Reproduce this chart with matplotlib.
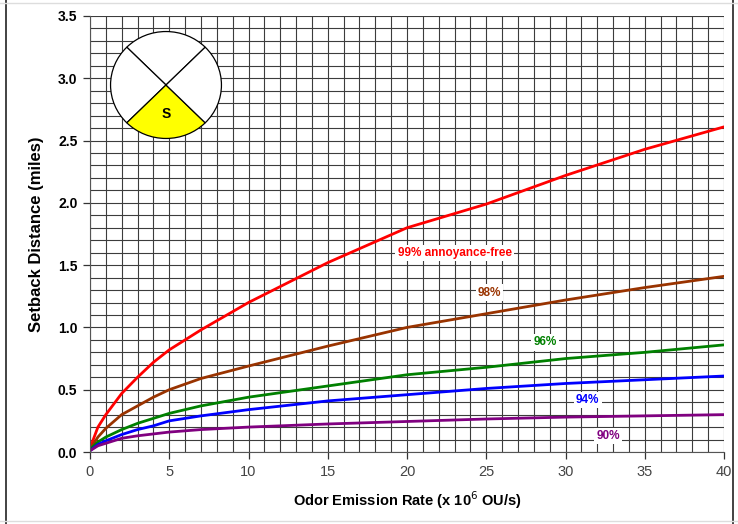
import matplotlib.pyplot as plt
import matplotlib.patches as mpatches
import numpy as np

plt.rcParams['font.family'] = ['Liberation Sans', 'DejaVu Sans']

# emission rate (x 10^6 OU/s) and setback distance (miles) per annoyance-free level
rate = [0, 0.5, 1, 2, 3, 4, 5, 7, 10, 15, 20, 25, 30, 35, 40]
d99 = [0.03, 0.20, 0.30, 0.47, 0.60, 0.72, 0.82, 0.98, 1.20, 1.52, 1.80, 1.99, 2.22, 2.43, 2.61]
d98 = [0.02, 0.12, 0.19, 0.30, 0.37, 0.44, 0.50, 0.59, 0.69, 0.85, 1.00, 1.11, 1.22, 1.32, 1.41]
d96 = [0.02, 0.08, 0.12, 0.18, 0.23, 0.27, 0.31, 0.37, 0.44, 0.53, 0.62, 0.68, 0.75, 0.80, 0.86]
d94 = [0.01, 0.06, 0.09, 0.14, 0.18, 0.21, 0.25, 0.29, 0.34, 0.41, 0.46, 0.51, 0.55, 0.58, 0.61]
d90 = [0.01, 0.05, 0.07, 0.11, 0.13, 0.145, 0.16, 0.18, 0.20, 0.225, 0.245, 0.265, 0.28, 0.29, 0.30]

series = [d99, d98, d96, d94, d90]
colors = ['#FF0000', '#993300', '#008000', '#0000FF', '#800080']
labels = ['99% annoyance-free', '98%', '96%', '94%', '90%']
label_pos = [(23.0, 1.60), (25.2, 1.28), (28.7, 0.88), (31.4, 0.42), (32.7, 0.13)]

# wind-sector diagram (four quarters, south one shaded)
sectors = [1, 1, 1, 1]
sector_colors = ['white', 'white', '#FFFF00', 'white']

fig = plt.figure(figsize=(7.38, 5.24), dpi=100, facecolor='white')
ax = fig.add_axes([90 / 738, 72 / 524, 634 / 738, 436 / 524])

ax.set_xlim(0, 40)
ax.set_ylim(0, 3.5)
ax.set_xticks(np.arange(0, 41, 5))
ax.set_yticks(np.arange(0, 3.51, 0.5))
ax.set_xticks(np.arange(0, 41, 1), minor=True)
ax.set_yticks(np.arange(0, 3.51, 0.1), minor=True)
ax.grid(which='both', color='#3c3c3c', linewidth=0.8)
ax.set_axisbelow(True)
ax.tick_params(which='minor', length=0)
ax.tick_params(which='major', direction='out', length=5, color='#333333', width=0.9)
for s in ['top', 'right']:
    ax.spines[s].set_visible(False)
for s in ['left', 'bottom']:
    ax.spines[s].set_color('#555555')

ax.set_yticklabels([f'{v:.1f}' for v in np.arange(0, 3.51, 0.5)],
                   fontsize=10, fontweight='bold')
ax.set_xticklabels([str(v) for v in range(0, 41, 5)], fontsize=10.5, color='#444444')
ax.tick_params(axis='x', pad=4)
ax.tick_params(axis='y', pad=4)

for y, c in zip(series, colors):
    ax.plot(rate, y, color=c, linewidth=2.0, solid_capstyle='round')

for (lx, ly), lab, c in zip(label_pos, labels, colors):
    ax.text(lx, ly, lab, color=c, fontsize=8.5, fontweight='bold', ha='center', va='center',
            bbox=dict(facecolor='white', edgecolor='none', pad=1.5))

ax.set_ylabel('Setback Distance (miles)', fontsize=12, fontweight='bold', labelpad=10)
ax.set_xlabel('Odor Emission Rate (x 10$^6$ OU/s)', fontsize=10.5, fontweight='bold', labelpad=8)

# inset wind-sector circle
ins = fig.add_axes([110 / 738, 385 / 524, 112 / 738, 108 / 524])
ins.pie(sectors, colors=sector_colors, startangle=45, counterclock=True, radius=1.0,
        wedgeprops=dict(edgecolor='black', linewidth=0.9))
ins.set_xlim(-1.01, 1.01)
ins.set_ylim(-1.01, 1.01)
ins.set_aspect('auto')
ins.text(0, -0.55, 'S', ha='center', va='center', fontsize=10, fontweight='bold')

# outer frame of the picture
fig.add_artist(plt.Line2D([6 / 738, 6 / 738], [0, 1], color='#222222', linewidth=1.2))
fig.add_artist(plt.Line2D([733 / 738, 733 / 738], [0, 1], color='#222222', linewidth=1.2))
fig.add_artist(plt.Line2D([0, 1], [521 / 524, 521 / 524], color='#dddddd', linewidth=1))
fig.add_artist(plt.Line2D([0, 1], [3 / 524, 3 / 524], color='#dddddd', linewidth=1))

fig.savefig('out.png', dpi=100, facecolor='white')
